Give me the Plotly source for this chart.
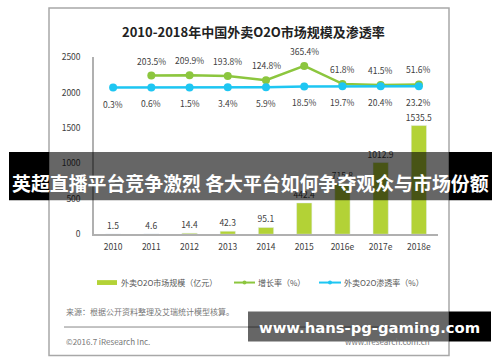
import plotly.graph_objects as go

# ---- data ----
years = ["2010", "2011", "2012", "2013", "2014", "2015", "2016e", "2017e", "2018e"]
market_size = [1.5, 4.6, 14.4, 42.3, 95.1, 442.4, 715.8, 1012.9, 1535.5]
growth_rate = [None, 203.5, 209.9, 193.8, 124.8, 365.4, 61.8, 41.5, 51.6]
penetration = [0.3, 0.6, 1.5, 3.4, 5.9, 18.5, 19.7, 20.4, 23.2]
y_ticks = [0, 500, 1000, 1500, 2000, 2500]

title_text = "2010-2018年中国外卖O2O市场规模及渗透率"
legend_names = ["外卖O2O市场规模（亿元）", "增长率（%）", "外卖O2O渗透率（%）"]
source_text = "来源：根据公开资料整理及艾瑞统计模型核算。"
copyright_text = "©2016.7 iResearch Inc."
site_text = "www.iresearch.com.cn"
banner_text = "英超直播平台竞争激烈 各大平台如何争夺观众与市场份额"
watermark_text = "www.hans-pg-gaming.com"

W, H = 500, 362
BAR_C = "#B3D236"
GROW_C = "#8CC63E"
PEN_C = "#1EC6F2"
FONT = "Noto Sans CJK SC, Noto Sans, sans-serif"
TXT = "#404040"


def px(x):
    return x / W


def py(y):
    return 1 - y / H


fig = go.Figure()

fig.add_trace(go.Bar(
    x=years, y=market_size, marker_color=BAR_C, width=0.4,
    text=[f"{v:g}" for v in market_size], textposition="outside",
    constraintext="none",
    textfont=dict(size=8.5, color=TXT, family=FONT), cliponaxis=False,
    showlegend=False, yaxis="y", hoverinfo="skip"))

fig.add_trace(go.Scatter(
    x=years, y=growth_rate, mode="lines+markers", yaxis="y2",
    line=dict(color=GROW_C, width=2.5), marker=dict(color=GROW_C, size=8),
    showlegend=False, cliponaxis=False, hoverinfo="skip"))

fig.add_trace(go.Scatter(
    x=years, y=penetration, mode="lines+markers", yaxis="y2",
    line=dict(color=PEN_C, width=2.5), marker=dict(color=PEN_C, size=8),
    showlegend=False, cliponaxis=False, hoverinfo="skip"))

annotations = []
for i, g in enumerate(growth_rate):
    if g is None:
        continue
    annotations.append(dict(x=i, y=g, xref="x", yref="y2", text=f"{g}%",
                            showarrow=False, yshift=15, xanchor="center", yanchor="middle",
                            font=dict(size=8.5, color=TXT, family=FONT)))
for i, p in enumerate(penetration):
    annotations.append(dict(x=i, y=p, xref="x", yref="y2", text=f"{p}%",
                            showarrow=False, yshift=-16, xanchor="center", yanchor="middle",
                            font=dict(size=8.5, color=TXT, family=FONT)))


def paper_text(x, y, text, size, color, xanchor="center", family=FONT):
    annotations.append(dict(x=px(x), y=py(y), xref="paper", yref="paper",
                            xanchor=xanchor, yanchor="middle", text=text,
                            showarrow=False,
                            font=dict(size=size, color=color, family=family)))


# title
paper_text(253, 25, f"<b>{title_text}</b>", 13, "#222222")

shapes = []
# legend (manual)
leg_y = 285
shapes.append(dict(type="rect", xref="paper", yref="paper", x0=px(97), x1=px(117),
                   y0=py(leg_y - 2.5), y1=py(leg_y + 2.5), fillcolor=BAR_C, line=dict(width=0)))
paper_text(119, leg_y, legend_names[0], 8, "#555555", "left")
for x0, x1, c, name in [(234, 255, GROW_C, legend_names[1]), (319, 341, PEN_C, legend_names[2])]:
    shapes.append(dict(type="line", xref="paper", yref="paper", x0=px(x0), x1=px(x1),
                       y0=py(leg_y), y1=py(leg_y), line=dict(color=c, width=2)))
    cx = (x0 + x1) / 2
    shapes.append(dict(type="circle", xref="paper", yref="paper", x0=px(cx - 2), x1=px(cx + 2),
                       y0=py(leg_y - 2), y1=py(leg_y + 2), fillcolor=c, line=dict(width=0)))
    paper_text(x1 + 1, leg_y, name, 8, "#555555", "left")

# footer
paper_text(64, 315, source_text, 8, "#777777", "left")
shapes.append(dict(type="line", xref="paper", yref="paper", x0=px(64), x1=px(432),
                   y0=py(331), y1=py(331), line=dict(color="#888888", width=1)))
paper_text(64, 346, copyright_text, 8, "#777777", "left")
paper_text(432, 346, site_text, 8, "#777777", "right")

# card border
shapes.append(dict(type="rect", xref="paper", yref="paper", x0=px(49), x1=px(449),
                   y0=py(1), y1=py(360.5), line=dict(color="#a8a8a8", width=1.5),
                   fillcolor="rgba(0,0,0,0)", layer="below"))

# banner overlay
for x0, x1, col in [(9, 49, "black"), (49, 449, "rgba(0,0,0,0.6)"), (449, 492, "black")]:
    shapes.append(dict(type="rect", xref="paper", yref="paper", x0=px(x0), x1=px(x1),
                       y0=py(200), y1=py(150), fillcolor=col, line=dict(width=0), layer="above"))
paper_text(250, 182, f"<b>{banner_text}</b>", 18.9, "white")

# watermark box
for x0, x1, col in [(248, 449, "rgba(0,0,0,0.6)"), (449, 491, "black")]:
    shapes.append(dict(type="rect", xref="paper", yref="paper", x0=px(x0), x1=px(x1),
                       y0=py(346), y1=py(315), fillcolor=col, line=dict(width=0), layer="above"))
paper_text(369, 331, f"<b>{watermark_text}</b>", 14.8, "white",
           family="DejaVu Sans, sans-serif")

fig.update_layout(
    width=W, height=H, margin=dict(l=0, r=0, t=0, b=0),
    paper_bgcolor="white", plot_bgcolor="white",
    hovermode=False,
    xaxis=dict(type="category", domain=[px(94), px(438)], range=[-0.5, 8.5],
               showgrid=False, zeroline=False,
               showline=True, linecolor="#b0b0b0", linewidth=1.5, ticks="",
               ticklabelstandoff=4,
               tickfont=dict(size=8.5, color=TXT, family=FONT)),
    yaxis=dict(domain=[py(235), py(52)], range=[0, 2500], tickvals=y_ticks,
               showgrid=False, zeroline=False, showline=True, linecolor="#b0b0b0",
               linewidth=1.5, ticks="", ticklabelstandoff=10,
               tickfont=dict(size=8.5, color=TXT, family=FONT)),
    yaxis2=dict(domain=[py(235), py(52)], overlaying="y", range=[-2483, 512],
                visible=False),
    shapes=shapes, annotations=annotations,
)

fig.write_html("out.html", config={"displayModeBar": False},
               post_script="document.body.style.margin='0';document.body.style.overflow='hidden';")
